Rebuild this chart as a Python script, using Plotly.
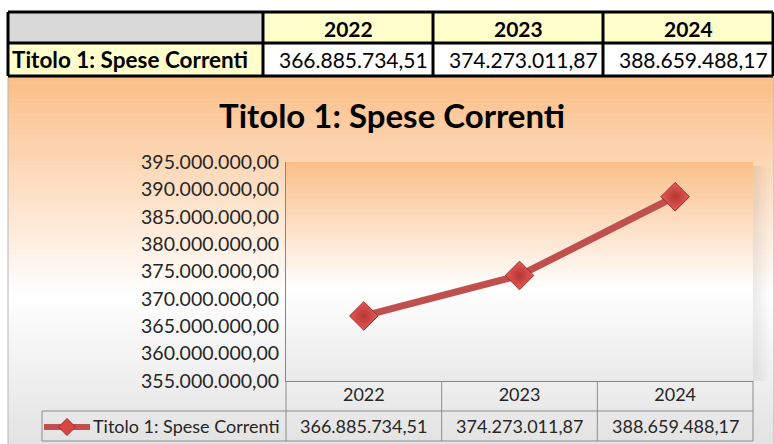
import plotly.graph_objects as go

# ---------------- data ----------------
series_name = "Titolo 1: Spese Correnti"
years = ["2022", "2023", "2024"]
values = [366885734.51, 374273011.87, 388659488.17]
y_min, y_max, y_step = 355000000, 395000000, 5000000

# ---------------- helpers ----------------
W, H = 774, 444
FONT = "Lato"
LINE_COLOR = "#c0504d"


def px(x):
    return x / W


def py(y):
    return 1 - y / H


def it_num(v):
    s = f"{v:,.2f}"
    return s.replace(",", "X").replace(".", ",").replace("X", ".")


def interp(stops, t):
    for (t0, c0), (t1, c1) in zip(stops[:-1], stops[1:]):
        if t0 <= t <= t1:
            f = (t - t0) / (t1 - t0) if t1 > t0 else 0
            c = [round(a + (b - a) * f) for a, b in zip(c0, c1)]
            return f"rgb({c[0]},{c[1]},{c[2]})"
    c = stops[-1][1]
    return f"rgb({c[0]},{c[1]},{c[2]})"


shapes = []


def grad_rect(x0, y0, x1, y1, stops, n=70):
    h = (y1 - y0) / n
    for i in range(n):
        t = (i + 0.5) / n
        shapes.append(dict(type="rect", xref="paper", yref="paper",
                           x0=px(x0), x1=px(x1), y0=py(y0 + i * h), y1=py(y0 + (i + 1) * h + 0.6),
                           fillcolor=interp(stops, t), line=dict(width=0), layer="below"))


def rect(x0, y0, x1, y1, fill, lw=0, lc="black"):
    shapes.append(dict(type="rect", xref="paper", yref="paper",
                       x0=px(x0), x1=px(x1), y0=py(y0), y1=py(y1),
                       fillcolor=fill, line=dict(width=lw, color=lc), layer="below"))


def line(x0, y0, x1, y1, lw, lc, xref="paper"):
    shapes.append(dict(type="line", xref=xref, yref="paper",
                       x0=x0 if xref != "paper" else px(x0), x1=x1 if xref != "paper" else px(x1),
                       y0=py(y0), y1=py(y1), line=dict(width=lw, color=lc), layer="above"))


# chart area background
chart_stops = [(0.0, (251, 190, 135)), (0.6, (255, 255, 255)), (1.0, (226, 226, 226))]
grad_rect(8, 77, 774, 444, chart_stops)
rect(8, 77, 774, 446, "rgba(0,0,0,0)", 1, "#b5b5b5")

# plot area shadow on the right
for i in range(8):
    a = 0.07 * (1 - i / 8)
    rect(753 + i * 2, 166, 755 + i * 2, 381, f"rgba(0,0,0,{a:.3f})")

# plot area background
plot_stops = [(0.0, (251, 191, 137)), (0.58, (255, 255, 255)), (1.0, (233, 233, 233))]
grad_rect(286, 162, 753, 381, plot_stops)

# ---------------- top table ----------------
cols = [8, 263, 433, 603, 773]
r0, r1, r2 = 12, 43, 76
rect(cols[0], r0, cols[1], r1, "#d9d9d9")
for i in range(3):
    rect(cols[i + 1], r0, cols[i + 2], r1, "#ffffcc")
    rect(cols[i + 1], r1, cols[i + 2], r2, "#ffffff")
rect(cols[0], r1, cols[1], r2, "#ffffcc")
for c in cols:
    line(c, r0, c, r2, 3, "black")
for r in (r0, r1, r2):
    line(cols[0], r, cols[-1], r, 3, "black")

annotations = []
for i, yr in enumerate(years):
    annotations.append(dict(xref="paper", yref="paper", x=px((cols[i + 1] + cols[i + 2]) / 2), y=py(28),
                            text=f"<b>{yr}</b>", showarrow=False, xanchor="center", yanchor="middle",
                            font=dict(family=FONT, size=21, color="black")))
    annotations.append(dict(xref="paper", yref="paper", x=px(cols[i + 2] - 3), y=py(60),
                            text=it_num(values[i]), showarrow=False, xanchor="right", yanchor="middle",
                            font=dict(family=FONT, size=21, color="black")))
annotations.append(dict(xref="paper", yref="paper", x=px(10), y=py(60),
                        text=f"<b>{series_name}</b>", showarrow=False, xanchor="left", yanchor="middle",
                        font=dict(family=FONT, size=22.5, color="black")))

# ---------------- chart title ----------------
annotations.append(dict(xref="paper", yref="paper", x=px(392), y=py(115),
                        text=f"<b>{series_name}</b>", showarrow=False, xanchor="center", yanchor="middle",
                        font=dict(family=FONT, size=33, color="black")))

# ---------------- data table under chart ----------------
GRID = "#8c8c8c"
line(286, 381, 286, 441, 1, GRID)
line(753, 381, 753, 441, 1, GRID)
line(0.5, 381, 0.5, 441, 1, GRID, xref="x")
line(1.5, 381, 1.5, 441, 1, GRID, xref="x")
line(42, 411, 753, 411, 1, GRID)
line(42, 441, 753, 441, 1, GRID)
line(42, 411, 42, 441, 1, GRID)
for i, v in enumerate(values):
    annotations.append(dict(xref="x", yref="paper", x=i, y=py(426),
                            text=it_num(v), showarrow=False, xanchor="center", yanchor="middle",
                            font=dict(family=FONT, size=18, color="#262626")))

# legend key (inside the data table)
line(44, 427, 90, 427, 6, LINE_COLOR)
kx, ky, kr = 67, 427, 8.5
shapes.append(dict(type="path", xref="paper", yref="paper", layer="above",
                   path=f"M {px(kx - kr)},{py(ky)} L {px(kx)},{py(ky - kr)} L {px(kx + kr)},{py(ky)} "
                        f"L {px(kx)},{py(ky + kr)} Z",
                   fillcolor="#d84644", line=dict(color="#9c2e2c", width=1)))
annotations.append(dict(xref="paper", yref="paper", x=px(91), y=py(426),
                        text=series_name, showarrow=False, xanchor="left", yanchor="middle",
                        font=dict(family=FONT, size=18, color="#262626")))

# ---------------- figure ----------------
fig = go.Figure()
fig.add_trace(go.Scatter(
    x=years, y=values, name=series_name, mode="lines+markers",
    line=dict(color=LINE_COLOR, width=7),
    marker=dict(symbol="diamond", size=22, color="#e45a58",
                gradient=dict(type="radial", color="#b73532"),
                line=dict(color="#9c2e2c", width=1)),
    showlegend=False,
))

fig.update_layout(
    width=W, height=H,
    margin=dict(l=0, r=0, t=0, b=0),
    paper_bgcolor="white",
    plot_bgcolor="rgba(0,0,0,0)",
    separators=",.",
    shapes=shapes,
    annotations=annotations,
    showlegend=False,
    xaxis=dict(domain=[px(286), px(753)], type="category", range=[-0.5, 2.5],
               showgrid=False, zeroline=False, showline=True, linecolor="#868686", linewidth=1,
               ticks="", ticklabelstandoff=-3, automargin=False,
               tickfont=dict(family=FONT, size=18, color="#262626")),
    yaxis=dict(domain=[py(381), py(162)], range=[y_min, y_max], dtick=y_step, tick0=y_min,
               tickformat=",.2f", showgrid=False, zeroline=False, automargin=False,
               showline=True, linecolor="#868686", linewidth=1, ticks="", ticklabelstandoff=2,
               tickfont=dict(family=FONT, size=19.5, color="#262626")),
)

fig.write_html("out.html", config={"displayModeBar": False},
               post_script="document.body.style.margin='0';document.body.style.overflow='hidden';")
